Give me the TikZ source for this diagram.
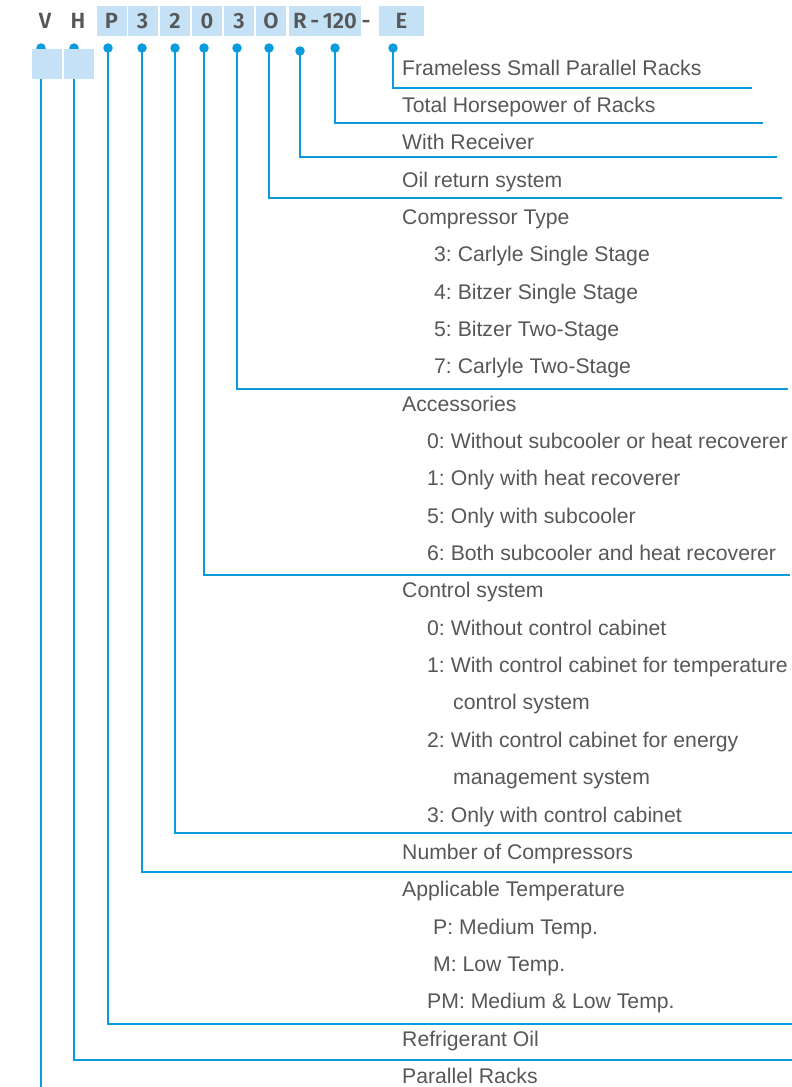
\documentclass[tikz,border=0pt]{standalone}
\usepackage{fontspec}
\usepackage{tikz}
\usetikzlibrary{positioning}
\newfontfamily\lblfont{Liberation Sans}
\newfontfamily\codefont{Fira Sans SemiBold}
\definecolor{lineblue}{HTML}{0A9BDC}
\definecolor{boxblue}{HTML}{C4E1F5}
\definecolor{textgray}{HTML}{555759}
\frenchspacing

\begin{document}
\begin{tikzpicture}[x=1pt, y=-1pt,
            codebox/.style={fill=boxblue, minimum width=30, minimum height=30, inner sep=0pt,
                text height=15, text depth=0,
                text=textgray, font=\codefont\fontsize{22}{26}\selectfont},
            codetext/.style={codebox, fill=none},
            pin/.style={circle, fill=lineblue, minimum size=9.5, inner sep=0pt},
            lead/.style={draw=lineblue, line width=2.7},
            lbl/.style={anchor=base west, inner sep=0pt, text=textgray,
                font=\lblfont\fontsize{21.2}{25}\selectfont}]
            \useasboundingbox (0,0) rectangle (792,1087);

            % Model code
            \node[codetext] (cV) at (45,21) {V};
            \node[codetext] (cH) at (78,21) {H};
            \node[codebox] (cP) at (111.5,21) {P};
            \node[codebox] (cN) at (142.5,21) {3};
            \node[codebox] (cC) at (175,21) {2};
            \node[codebox] (cA) at (207,21) {0};
            \node[codebox] (cT) at (239,21) {3};
            \node[codebox] (cO) at (271,21) {O};
            \node[codebox, minimum width=72] (cR) at (325,21) {R\,-\,120};
            \node[codetext, minimum width=8] (cD) at (366,21) {-};
            \node[codebox, minimum width=45] (cE) at (401.5,21) {E};

            % Pins under the code
            \node[pin] (pV) at (41,48) {};
            \node[pin] (pH) at (74,48) {};
            \node[pin] (pP) at (108,48) {};
            \node[pin] (pN) at (142,48) {};
            \node[pin] (pC) at (175,48) {};
            \node[pin] (pA) at (204,48) {};
            \node[pin] (pT) at (237,48) {};
            \node[pin] (pO) at (269,48) {};
            \node[pin] (pR) at (300,51) {};
            \node[pin] (pK) at (335,48) {};
            \node[pin] (pE) at (393,48) {};

            % Line ends
            \coordinate (eV) at (41,1087);
            \coordinate (eH) at (792,1060);
            \coordinate (eP) at (792,1024);
            \coordinate (eN) at (792,872);
            \coordinate (eC) at (792,833);
            \coordinate (eA) at (790,575);
            \coordinate (eT) at (788,389);
            \coordinate (eO) at (782,198);
            \coordinate (eR) at (777,157);
            \coordinate (eK) at (763,123);
            \coordinate (eE) at (752,88);

            \draw[lead] (pV.center) -- (eV);
            \foreach \c in {H,P,N,C,A,T,O,R,K,E}
                \draw[lead] (p\c.center) |- (e\c);

            % Blank boxes over V and H
            \node[codebox, anchor=north west] (bV) at (32,49) {};
            \node[codebox, anchor=north west] (bH) at (64,49) {};

            % Descriptions
            \foreach \x/\t [count=\k from 0] in {
                402/Frameless Small Parallel Racks,
                402/Total Horsepower of Racks,
                402/With Receiver,
                402/Oil return system,
                402/Compressor Type,
                434/3: Carlyle Single Stage,
                434/4: Bitzer Single Stage,
                434/5: Bitzer Two-Stage,
                434/7: Carlyle Two-Stage,
                402/Accessories,
                427/0: Without subcooler or heat recoverer,
                427/1: Only with heat recoverer,
                427/5: Only with subcooler,
                427/6: Both subcooler and heat recoverer,
                402/Control system,
                427/0: Without control cabinet,
                427/1: With control cabinet for temperature,
                453/control system,
                427/2: With control cabinet for energy,
                453/management system,
                427/3: Only with control cabinet,
                402/Number of Compressors,
                402/Applicable Temperature,
                433/P: Medium Temp.,
                433/M: Low Temp.,
                427/PM: Medium \& Low Temp.,
                402/Refrigerant Oil,
                402/Parallel Racks}
                \node[lbl] (l\k) at (\x,75+37.35*\k) {\t};
        \end{tikzpicture}
\end{document}
